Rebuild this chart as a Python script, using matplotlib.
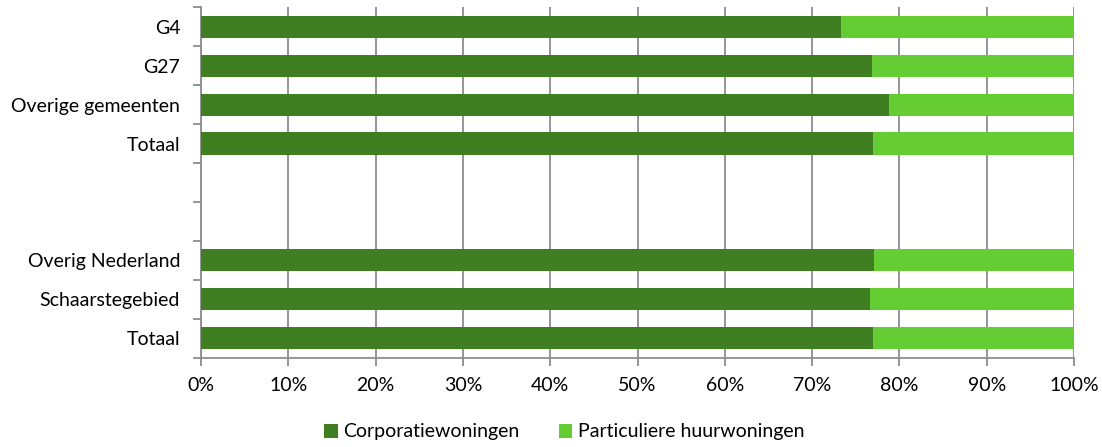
import matplotlib.pyplot as plt
from matplotlib.ticker import PercentFormatter

# categorieen (van boven naar beneden), lege rijen als scheiding
categories = ["G4", "G27", "Overige gemeenten", "Totaal", "", "",
              "Overig Nederland", "Schaarstegebied", "Totaal"]
corporatie = [73.3, 76.9, 78.8, 77.0, None, None, 77.1, 76.6, 77.0]
particulier = [None if v is None else 100 - v for v in corporatie]

dark = "#407E22"
light = "#66CC33"
grid = "#8C8C8C"

plt.rcParams['font.family'] = ['Lato', 'DejaVu Sans']

fig = plt.figure(figsize=(11.02, 4.47), dpi=100)
ax = fig.add_axes([0.1824, 0.1998, 0.9746 - 0.1824, 0.9837 - 0.1998])

pos = [i for i, v in enumerate(corporatie) if v is not None]
c_vals = [corporatie[i] for i in pos]
p_vals = [particulier[i] for i in pos]
h = 0.57
ax.barh(pos, c_vals, height=h, color=dark, label="Corporatiewoningen", zorder=3)
ax.barh(pos, p_vals, left=c_vals, height=h, color=light,
        label="Particuliere huurwoningen", zorder=3)

ax.set_xlim(0, 100)
ax.set_ylim(len(categories) - 0.5, -0.5)
ax.set_xticks(range(0, 101, 10))
ax.xaxis.set_major_formatter(PercentFormatter(decimals=0))
ax.set_yticks(range(len(categories)))
ax.set_yticklabels(categories)
# tickmarks tussen de categorieen
ax.set_yticks([i - 0.5 for i in range(len(categories) + 1)], minor=True)
ax.tick_params(axis='y', which='major', length=0, pad=15, labelsize=14)
ax.tick_params(axis='y', which='minor', length=6, width=1.3, color=grid)
ax.tick_params(axis='x', length=6, width=1.3, color=grid, labelsize=14, pad=8)

ax.grid(axis='x', color=grid, linewidth=1.3, zorder=0)
for s in ['top', 'right']:
    ax.spines[s].set_visible(False)
for s in ['left', 'bottom']:
    ax.spines[s].set_color(grid)
    ax.spines[s].set_linewidth(1.3)

fig.legend(loc='center', bbox_to_anchor=(0.512, 1 - 432 / 447), ncol=2, frameon=False,
           fontsize=14, handlelength=0.7, handleheight=0.7, handletextpad=0.3,
           columnspacing=2.0, borderpad=0)

fig.savefig("out.png", dpi=100)
